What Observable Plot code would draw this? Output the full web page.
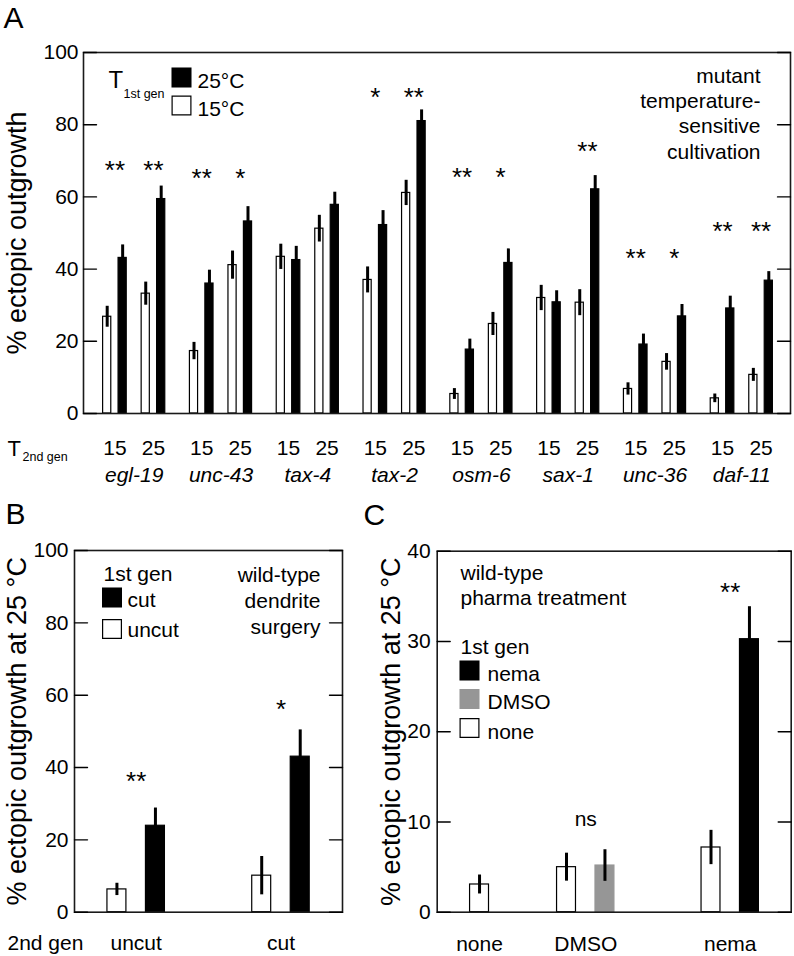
<!DOCTYPE html>
<html>
<head>
<meta charset="utf-8">
<script src="https://cdn.jsdelivr.net/npm/d3@7"></script>
<script src="https://cdn.jsdelivr.net/npm/@observablehq/plot@0.6"></script>
<style>
  html, body { margin: 0; padding: 0; background: #fff; }
  #wrap { position: relative; width: 794px; height: 956px; overflow: hidden; background: #fff; }
  .panel { position: absolute; }
</style>
</head>
<body>
<div id="wrap">
  <div class="panel" id="pA" style="left:0;top:0"></div>
  <div class="panel" id="pB" style="left:0;top:490px"></div>
  <div class="panel" id="pC" style="left:365px;top:490px"></div>
</div>
<script>
// ---------------- Panel A data ----------------
const genes = ["egl-19", "unc-43", "tax-4", "tax-2", "osm-6", "sax-1", "unc-36", "daf-11"];
const temps2nd = [15, 25];
const yTicksA = [0, 20, 40, 60, 80, 100];
// % ectopic outgrowth: 1st gen temperature x 2nd gen temperature
const a1st15_2nd15 = [26.8, 17.3, 43.4, 37.0, 5.4, 32.0, 6.8, 4.2];
const a1st25_2nd15 = [43.1, 36.0, 42.5, 52.2, 17.7, 30.8, 19.1, 29.1];
const a1st15_2nd25 = [33.2, 41.1, 51.2, 61.1, 24.8, 30.7, 14.3, 10.7];
const a1st25_2nd25 = [59.4, 53.2, 57.8, 81.0, 41.7, 62.1, 26.9, 36.8];
const e1st15_2nd15 = [2.9, 2.4, 3.5, 3.6, 1.5, 3.5, 1.7, 1.2];
const e1st25_2nd15 = [3.6, 3.7, 3.8, 4.0, 2.9, 3.2, 2.9, 3.4];
const e1st15_2nd25 = [3.2, 3.9, 3.7, 3.5, 3.2, 3.6, 2.3, 1.8];
const e1st25_2nd25 = [3.6, 4.1, 3.5, 3.1, 3.9, 3.8, 3.3, 2.5];
const sigA_2nd15 = ["**", "**", "", "*", "**", "", "**", "**"];
const sigA_2nd25 = ["**", "*", "", "**", "*", "**", "*", "**"];
const sigA_level = [69.0, 66.9, null, 89.3, 67.0, 74.3, 44.6, 52.2];

// ---------------- Panel B data ----------------
const groupsB = ["uncut", "cut"];               // 2nd gen
const yTicksB = [0, 20, 40, 60, 80, 100];
const bUncut1st = [6.3, 10.1];
const bUncut1stErr = [1.7, 5.3];
const bCut1st = [23.9, 43.0];
const bCut1stErr = [4.9, 7.4];
const sigB = ["**", "*"];
const sigB_level = [37.8, 57.8];

// ---------------- Panel C data ----------------
const groupsC = ["none", "DMSO", "nema"];       // 2nd gen
const yTicksC = [0, 10, 20, 30, 40];
const cNone1st = [3.07, 4.99, 7.17];
const cNone1stErr = [1.05, 1.55, 1.9];
const cTreated1st = [null, 5.17, 30.25];
const cTreated1stErr = [null, 1.75, 3.6];
const sigC = ["", "ns", "**"];
const sigC_level = [null, 10.3, 36.1];

// ---------------- layout / style ----------------
const FONT = '"Liberation Sans", Arial, Helvetica, sans-serif';
const baseStyle = {fontFamily: FONT, fontSize: "21px", overflow: "visible", background: "transparent", color: "black"};
const tickShape = {draw(c, l) { c.moveTo(0, 0); c.lineTo(0, -l); }};
function inwardTicks(ticks, len) {
  return [
    Plot.vector(ticks, {y: d => d, frameAnchor: "left", rotate: 90, length: len, anchor: "start", shape: tickShape, stroke: "black", strokeWidth: 1.4}),
    Plot.vector(ticks, {y: d => d, frameAnchor: "right", rotate: -90, length: len, anchor: "start", shape: tickShape, stroke: "black", strokeWidth: 1.4})
  ];
}
const frame = () => Plot.frame({stroke: "#1a1a1a", strokeWidth: 1.6});
const sq = 11.3, sqW = 10.6;  // legend square radii (symbol size)
// helper for free text placed relative to the frame
const note = (txt, o) => Plot.text([txt], {lineAnchor: "middle", textAnchor: "start", fontSize: 21, ...o});

// ---------------- Panel A ----------------
const SUB = 0.222, PAIR = 0.089, BWA = 0.094;
const seriesA = [
  {t1: 15, t2: 15, v: a1st15_2nd15, e: e1st15_2nd15},
  {t1: 25, t2: 15, v: a1st25_2nd15, e: e1st25_2nd15},
  {t1: 15, t2: 25, v: a1st15_2nd25, e: e1st15_2nd25},
  {t1: 25, t2: 25, v: a1st25_2nd25, e: e1st25_2nd25}
];
const rowsA = genes.flatMap((g, i) => seriesA.map(s => ({
  gene: g, t1: s.t1, t2: s.t2, value: s.v[i], err: s.e[i],
  x: i + (s.t2 === 15 ? -SUB : SUB) + (s.t1 === 15 ? -PAIR : PAIR)
})));
const starsA = genes.flatMap((g, i) => [
  {x: i - SUB, text: sigA_2nd15[i], y: sigA_level[i]},
  {x: i + SUB, text: sigA_2nd25[i], y: sigA_level[i]}
]).filter(d => d.text);
const xLabA = genes.flatMap((g, i) => temps2nd.map((t, j) => ({x: i + (j ? SUB : -SUB), t: String(t)})));

const plotA = Plot.plot({
  width: 794, height: 490,
  marginTop: 52, marginBottom: 77, marginLeft: 83, marginRight: 4,
  style: baseStyle,
  x: {domain: [-0.584, 7.561], axis: null},
  y: {domain: [0, 100], axis: null},
  marks: [
    Plot.rect(rowsA, {x1: d => d.x - BWA / 2, x2: d => d.x + BWA / 2, y1: d => 0, y2: "value",
      fill: d => d.t1 === 25 ? "black" : "white", stroke: "black", strokeWidth: 1.2}),
    Plot.ruleX(rowsA, {x: "x", y1: d => d.value - d.err, y2: d => d.value + d.err, stroke: "black", strokeWidth: 3}),
    frame(),
    ...inwardTicks(yTicksA, 13),
    Plot.axisY({ticks: yTicksA, tickSize: 0, tickPadding: 5, label: null, fontSize: 21}),
    Plot.text(starsA, {x: "x", y: "y", text: "text", fontSize: 26, dy: 6.5}),
    Plot.text(xLabA, {x: "x", text: "t", frameAnchor: "bottom", lineAnchor: "middle", dy: 35, fontSize: 21}),
    Plot.text(genes, {x: (d, i) => i, text: d => d, frameAnchor: "bottom", lineAnchor: "middle", dy: 62, fontSize: 21, fontStyle: "italic"}),
    note("T", {frameAnchor: "bottom-left", dx: -76, dy: 35, fontSize: 22}),
    note("2nd gen", {frameAnchor: "bottom-left", dx: -61, dy: 43, fontSize: 12.5}),
    // legend
    note("T", {frameAnchor: "top-left", dx: 25, dy: 28, fontSize: 24}),
    note("1st gen", {frameAnchor: "top-left", dx: 40, dy: 41, fontSize: 12.5}),
    Plot.dot(["25°C"], {frameAnchor: "top-left", dx: 98, dy: 25, symbol: "square", r: sq, fill: "black", stroke: null}),
    Plot.dot(["15°C"], {frameAnchor: "top-left", dx: 98, dy: 53, symbol: "square", r: sqW, fill: "white", stroke: "black", strokeWidth: 1.2}),
    note("25°C", {frameAnchor: "top-left", dx: 114, dy: 28.3}),
    note("15°C", {frameAnchor: "top-left", dx: 114, dy: 56.3}),
    Plot.text(["mutant\ntemperature-\nsensitive\ncultivation"], {frameAnchor: "top-right", textAnchor: "end", lineAnchor: "top", lineHeight: 1.21, dx: -30, dy: 12, fontSize: 21}),
    // axis title and panel letter
    Plot.text(["% ectopic outgrowth"], {frameAnchor: "left", textAnchor: "middle", lineAnchor: "middle", rotate: -90, dx: -66.6, fontSize: 27}),
    note("A", {frameAnchor: "top-left", dx: -80, dy: -34.5, fontSize: 30})
  ]
});
document.getElementById("pA").append(plotA);

// ---------------- Panel B ----------------
const OFFB = 0.133, BWB = 0.131;
const rowsB = groupsB.flatMap((g, i) => [
  {g, i, kind: "uncut", value: bUncut1st[i], err: bUncut1stErr[i], x: i - OFFB},
  {g, i, kind: "cut", value: bCut1st[i], err: bCut1stErr[i], x: i + OFFB}
]);
const starsB = groupsB.map((g, i) => ({x: i, text: sigB[i], y: sigB_level[i]}));

const plotB = Plot.plot({
  width: 365, height: 466,
  marginTop: 60, marginBottom: 44.3, marginLeft: 74, marginRight: 23,
  style: baseStyle,
  x: {domain: [-0.426, 1.425], axis: null},
  y: {domain: [0, 100], axis: null},
  marks: [
    Plot.rect(rowsB, {x1: d => d.x - BWB / 2, x2: d => d.x + BWB / 2, y1: d => 0, y2: "value",
      fill: d => d.kind === "cut" ? "black" : "white", stroke: "black", strokeWidth: 1.2}),
    Plot.ruleX(rowsB, {x: "x", y1: d => d.value - d.err, y2: d => d.value + d.err, stroke: "black", strokeWidth: 3}),
    frame(),
    ...inwardTicks(yTicksB, 13),
    Plot.axisY({ticks: yTicksB, tickSize: 0, tickPadding: 6, label: null, fontSize: 21}),
    Plot.text(starsB, {x: "x", y: "y", text: "text", fontSize: 26, dy: 6.5}),
    Plot.text(groupsB, {x: (d, i) => i, text: d => d, frameAnchor: "bottom", lineAnchor: "middle", dy: 31, fontSize: 21}),
    note("2nd gen", {frameAnchor: "bottom-left", dx: -67, dy: 31}),
    // legend
    Plot.text(["1st gen"], {frameAnchor: "top-left", textAnchor: "start", lineAnchor: "top", dx: 29, dy: 16, fontSize: 21}),
    Plot.dot(["cut"], {frameAnchor: "top-left", dx: 37.5, dy: 47, symbol: "square", r: sq, fill: "black", stroke: null}),
    Plot.dot(["uncut"], {frameAnchor: "top-left", dx: 37.5, dy: 78.5, symbol: "square", r: sqW, fill: "white", stroke: "black", strokeWidth: 1.2}),
    note("cut", {frameAnchor: "top-left", dx: 53, dy: 49.5}),
    note("uncut", {frameAnchor: "top-left", dx: 53, dy: 79.5}),
    Plot.text(["wild-type\ndendrite\nsurgery"], {frameAnchor: "top-right", textAnchor: "end", lineAnchor: "top", lineHeight: 1.24, dx: -22, dy: 13, fontSize: 21}),
    Plot.text(["% ectopic outgrowth at 25 °C"], {frameAnchor: "left", textAnchor: "middle", lineAnchor: "middle", rotate: -90, dx: -57.6, fontSize: 27}),
    note("B", {frameAnchor: "top-left", dx: -69, dy: -36, fontSize: 30})
  ]
});
document.getElementById("pB").append(plotB);

// ---------------- Panel C ----------------
const groupPosC = [0, 0.735, 1.735];
const OFFC = 0.133, BWC = 0.131;
const treatedFill = {DMSO: "#969696", nema: "black"};
const rowsC = groupsC.flatMap((g, i) => {
  const hasT = cTreated1st[i] != null;
  const r = [{g, kind: "none", value: cNone1st[i], err: cNone1stErr[i], x: groupPosC[i] - (hasT ? OFFC : 0)}];
  if (hasT) r.push({g, kind: g, value: cTreated1st[i], err: cTreated1stErr[i], x: groupPosC[i] + OFFC});
  return r;
});
const starsC = groupsC.map((g, i) => ({x: groupPosC[i], text: sigC[i], y: sigC_level[i]})).filter(d => d.text);
const labC = groupsC.map((g, i) => ({x: groupPosC[i], g}));

const plotC = Plot.plot({
  width: 429, height: 466,
  marginTop: 60.7, marginBottom: 44.3, marginLeft: 71.7, marginRight: 3.3,
  style: baseStyle,
  x: {domain: [-0.293, 2.157], axis: null},
  y: {domain: [0, 40], axis: null},
  marks: [
    Plot.rect(rowsC, {x1: d => d.x - BWC / 2, x2: d => d.x + BWC / 2, y1: d => 0, y2: "value",
      fill: d => d.kind === "none" ? "white" : treatedFill[d.kind],
      stroke: d => d.kind === "none" ? "black" : treatedFill[d.kind], strokeWidth: 1.2}),
    Plot.ruleX(rowsC, {x: "x", y1: d => d.value - d.err, y2: d => d.value + d.err, stroke: "black", strokeWidth: 3}),
    frame(),
    ...inwardTicks(yTicksC, 13),
    Plot.axisY({ticks: yTicksC, tickSize: 0, tickPadding: 6.5, label: null, fontSize: 21}),
    Plot.text(starsC.filter(d => d.text !== "ns"), {x: "x", y: "y", text: "text", fontSize: 26, dy: 6.5}),
    Plot.text(starsC.filter(d => d.text === "ns"), {x: "x", y: "y", text: "text", fontSize: 21}),
    Plot.text(labC, {x: "x", text: "g", frameAnchor: "bottom", lineAnchor: "middle", dy: 31.6, fontSize: 21}),
    // legend
    Plot.text(["wild-type\npharma treatment"], {frameAnchor: "top-left", textAnchor: "start", lineAnchor: "top", lineHeight: 1.17, dx: 23.3, dy: 11.5, fontSize: 21}),
    Plot.text(["1st gen"], {frameAnchor: "top-left", textAnchor: "start", lineAnchor: "top", dx: 23.3, dy: 87.5, fontSize: 21}),
    Plot.dot(["nema"], {frameAnchor: "top-left", dx: 32.3, dy: 119.3, symbol: "square", r: sq, fill: "black", stroke: null}),
    Plot.dot(["DMSO"], {frameAnchor: "top-left", dx: 32.3, dy: 147.8, symbol: "square", r: sq, fill: "#969696", stroke: null}),
    Plot.dot(["none"], {frameAnchor: "top-left", dx: 32.3, dy: 176.8, symbol: "square", r: sqW, fill: "white", stroke: "black", strokeWidth: 1.2}),
    note("nema", {frameAnchor: "top-left", dx: 50.3, dy: 122.6}),
    note("DMSO", {frameAnchor: "top-left", dx: 50.3, dy: 150.6}),
    note("none", {frameAnchor: "top-left", dx: 50.3, dy: 180.6}),
    Plot.text(["% ectopic outgrowth at 25 °C"], {frameAnchor: "left", textAnchor: "middle", lineAnchor: "middle", rotate: -90, dx: -46, fontSize: 27}),
    note("C", {frameAnchor: "top-left", dx: -73.7, dy: -36, fontSize: 30})
  ]
});
document.getElementById("pC").append(plotC);
</script>
</body>
</html>
